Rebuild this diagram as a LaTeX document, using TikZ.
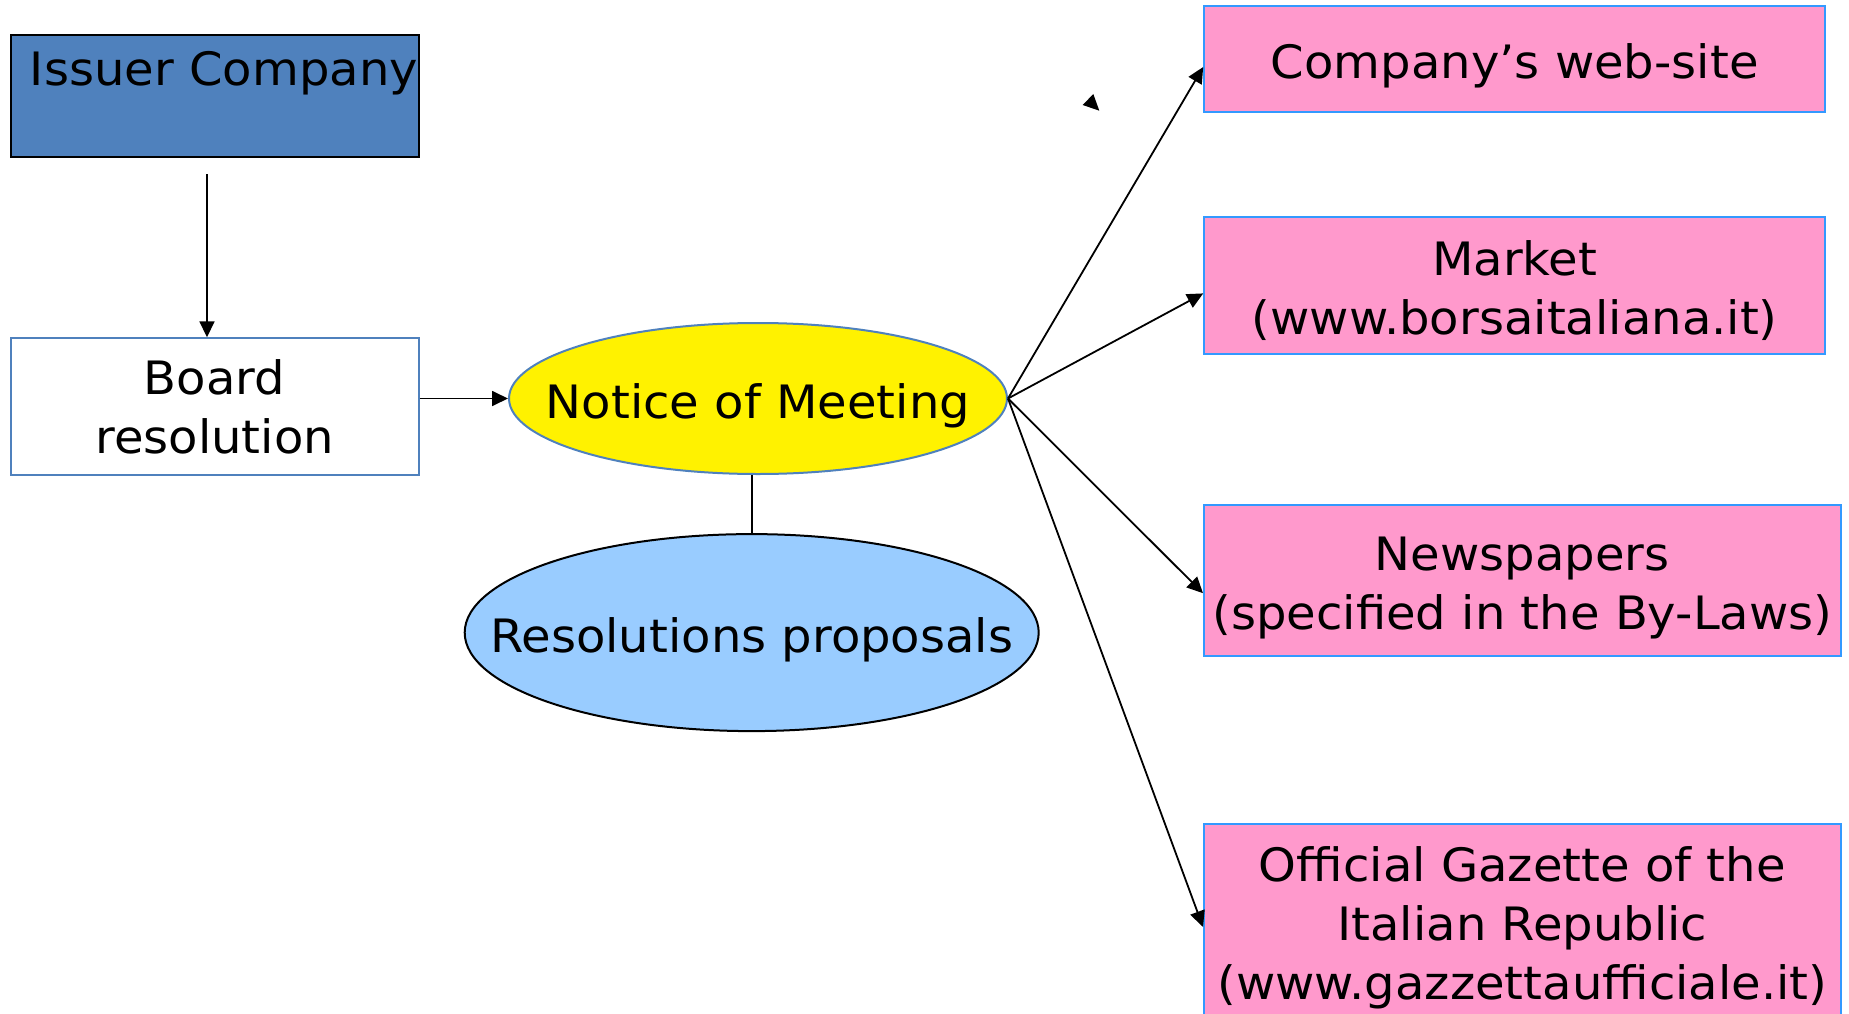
\documentclass[tikz,border=0pt]{standalone}
\usepackage{fontspec}
\setmainfont[FakeStretch=1.045]{DejaVu Sans}
\usetikzlibrary{shapes.geometric,arrows.meta,calc}
\definecolor{issuerblue}{HTML}{4F81BD}
\definecolor{pinkfill}{HTML}{FF99CC}
\definecolor{pinkborder}{HTML}{3399FF}
\definecolor{lightblue}{HTML}{99CCFF}
\tikzset{
  txt/.style={font=\fontsize{46}{59}\selectfont, align=center, text=black},
  lbl/.style={txt, inner sep=0pt, yshift=-7pt},
  pinkbox/.style={draw=pinkborder, fill=pinkfill, line width=2pt, inner sep=0pt, minimum width=621pt},
  conn/.style={line width=1.8pt, -{Triangle[length=16pt,width=15pt]}},
}
\begin{document}
\begin{tikzpicture}[x=1pt,y=-1pt]
\useasboundingbox (0,0) rectangle (1849,1014);
% Issuer company
\node[draw=black, fill=issuerblue, line width=2pt, minimum width=408pt, minimum height=122pt, inner sep=0pt] (issuer) at (214.6,96) {};
\node[txt, inner sep=0pt] (issuerlbl) at (224,73) {Issuer Company};
% Board resolution
\node[txt, draw=issuerblue, fill=white, line width=2pt, minimum width=408pt, minimum height=137pt, inner sep=0pt] (board) at (214.6,406.8) {Board\\resolution};
% Notice of Meeting
\node[ellipse, draw=issuerblue, fill=yellow, line width=2pt, minimum width=498pt, minimum height=151pt, inner sep=0pt] (notice) at (758,398.5) {};
\node[lbl] (noticelbl) at (notice.center) {Notice of Meeting};
% Resolutions proposals
\node[ellipse, draw=black, fill=lightblue, line width=2pt, minimum width=574pt, minimum height=197pt, inner sep=0pt] (resol) at (751.7,632.6) {};
\node[lbl] (resollbl) at (resol.center) {Resolutions proposals};
% Pink boxes
\node[pinkbox, minimum height=106pt] (web) at (1514.7,59) {};
\node[lbl] (weblbl) at (web.center) {Company’s web-site};
\node[pinkbox, minimum height=137pt] (market) at (1514.7,285.4) {};
\node[lbl, yshift=2pt] (marketlbl) at (market.center) {Market\\(www.borsaitaliana.it)};
\node[pinkbox, minimum width=636.7pt, minimum height=151pt] (news) at (1522.35,580.2) {};
\node[lbl, yshift=-1pt] (newslbl) at (news.center) {Newspapers\\(specified in the By-Laws)};
\node[pinkbox, minimum width=636.7pt, minimum height=194pt] (gazette) at (1522.35,921) {};
\node[lbl] (gazettelbl) at (gazette.center) {Official Gazette of the\\Italian Republic\\(www.gazzettaufficiale.it)};
% connectors
\coordinate (issuerout) at ($(issuer.south)+(-7.6,16)$);
\draw[conn] (issuerout) -- (issuerout |- board.north);
\draw[conn] (notice.west -| board.east) -- (notice.west);
\draw[line width=1.8pt] (resol.north) -- (resol.north |- notice.south);
\draw[conn] (notice.east) -- ($(web.west)+(0,8)$);
\draw[conn] (notice.east) -- ($(market.west)+(0,8)$);
\draw[conn] (notice.east) -- ($(news.west)+(0,13)$);
\draw[conn] (notice.east) -- ($(gazette.west)+(0,6)$);
% stray arrowhead
\fill[black] (1093.3,94) -- (1082.7,105) -- (1099.3,110.7) -- cycle;
\end{tikzpicture}
\end{document}
